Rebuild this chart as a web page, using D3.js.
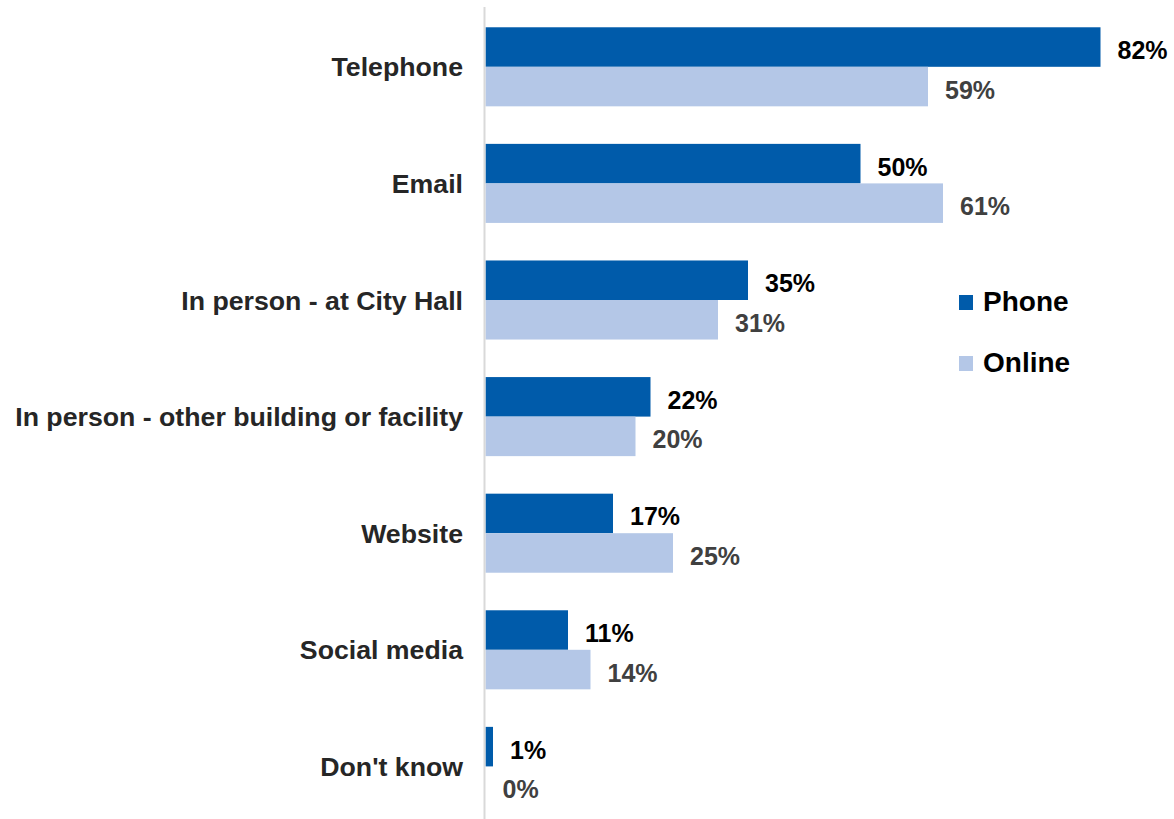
<!DOCTYPE html>
<html>
<head>
<meta charset="utf-8">
<script src="https://cdn.jsdelivr.net/npm/d3@7"></script>
<style>
  html, body { margin: 0; padding: 0; background: #fff; }
  svg { display: block; font-family: "Liberation Sans", Arial, sans-serif; font-weight: bold; }
</style>
</head>
<body>
<svg id="chart" width="1174" height="819"></svg>
<script>
// Contact channels, share of respondents by survey mode
const categories = [
  "Telephone",
  "Email",
  "In person - at City Hall",
  "In person - other building or facility",
  "Website",
  "Social media",
  "Don't know"
];
const phoneValues  = [82, 50, 35, 22, 17, 11, 1];
const onlineValues = [59, 61, 31, 20, 25, 14, 0];
const seriesNames  = ["Phone", "Online"];
const seriesColors = ["#005BAA", "#B4C7E7"];
const labelColors  = ["#000000", "#404040"];

const svg = d3.select("#chart");

const x0 = 485.5;
const x = d3.scaleLinear().domain([0, 100]).range([x0, x0 + 750]);

const y = d3.scaleBand()
  .domain(categories)
  .range([8.5, 8.5 + 7 * 116.6])
  .paddingInner(0.322)
  .paddingOuter(0.161);

const sub = d3.scaleBand()
  .domain(seriesNames)
  .range([0, y.bandwidth()]);

const rows = categories.map((c, i) => ({
  category: c,
  values: [
    { series: "Phone",  value: phoneValues[i],  idx: 0 },
    { series: "Online", value: onlineValues[i], idx: 1 }
  ]
}));

// Bars
const groups = svg.append("g").selectAll("g")
  .data(rows)
  .join("g")
  .attr("transform", d => `translate(0,${y(d.category)})`);

groups.selectAll("rect")
  .data(d => d.values)
  .join("rect")
  .attr("x", x(0))
  .attr("y", d => sub(d.series))
  .attr("width", d => x(d.value) - x(0))
  .attr("height", sub.bandwidth())
  .attr("fill", d => seriesColors[d.idx]);

// Value labels
groups.selectAll("text.val")
  .data(d => d.values)
  .join("text")
  .attr("class", "val")
  .attr("x", d => x(d.value) + 17)
  .attr("y", d => sub(d.series) + sub.bandwidth() / 2 + 12)
  .attr("font-size", 25)
  .attr("fill", d => labelColors[d.idx])
  .text(d => d.value + "%");

// Vertical axis line
svg.append("line")
  .attr("x1", x0 - 1).attr("x2", x0 - 1)
  .attr("y1", 7).attr("y2", 819)
  .attr("stroke", "#D9D9D9")
  .attr("stroke-width", 2);

// Category labels
svg.append("g").selectAll("text")
  .data(categories)
  .join("text")
  .attr("x", 463)
  .attr("y", d => y(d) + y.bandwidth() / 2 + 9.5)
  .attr("text-anchor", "end")
  .attr("font-size", 26.7)
  .attr("fill", "#262626")
  .text(d => d);

// Legend
const legend = svg.append("g").selectAll("g")
  .data(seriesNames)
  .join("g")
  .attr("transform", (d, i) => `translate(959,${295 + i * 61})`);

legend.append("rect")
  .attr("width", 14)
  .attr("height", 15)
  .attr("fill", (d, i) => seriesColors[i]);

legend.append("text")
  .attr("x", 24)
  .attr("y", 16)
  .attr("font-size", 28)
  .attr("fill", "#000")
  .text(d => d);
</script>
</body>
</html>
